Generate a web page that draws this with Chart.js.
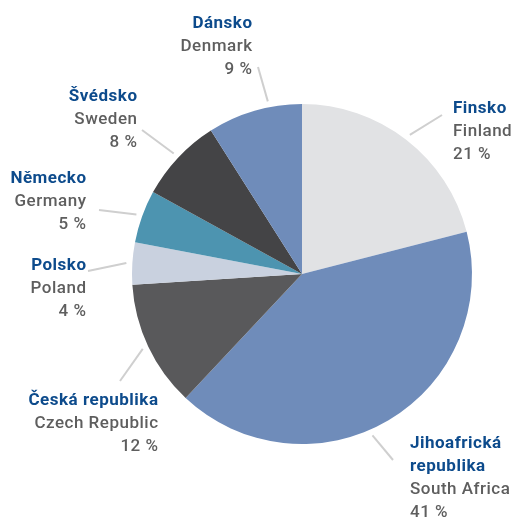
<!DOCTYPE html>
<html>
<head>
<meta charset="utf-8">
<script src="https://cdn.jsdelivr.net/npm/chart.js@4.4.1/dist/chart.umd.min.js"></script>
<style>
  html, body { margin: 0; padding: 0; background: #fff; }
  canvas { display: block; }
</style>
</head>
<body>
<canvas id="pie" width="516" height="517"></canvas>
<script>
// data
const namesCz = ['Finsko', 'Jihoafrická republika', 'Česká republika', 'Polsko', 'Německo', 'Švédsko', 'Dánsko'];
const namesEn = ['Finland', 'South Africa', 'Czech Republic', 'Poland', 'Germany', 'Sweden', 'Denmark'];
const shares = [21, 41, 12, 4, 5, 8, 9];
const sliceColors = ['#e1e2e4', '#6f8cba', '#59595b', '#c9d1df', '#4d94b0', '#444446', '#6f8cba'];

// where each label sits, relative to the pie centre
// (line starts just outside the slice, at its middle unless an angle shift is given)
const labelLayout = [
  { end: [140, -159], text: [151, -161], align: 'left' },
  { end: [91, 186],   text: [108, 174],  align: 'left', wrap: true, shift: 7 },
  { end: [-182, 107], text: [-144, 131], align: 'right' },
  { end: [-214, -3],  text: [-216, -4],  align: 'right' },
  { end: [-203, -64], text: [-216, -91], align: 'right' },
  { end: [-160, -144], text: [-165, -173], align: 'right' },
  { end: [-44, -207], text: [-50, -246], align: 'right', shift: 5 }
];

const FONT = 'Roboto, "DejaVu Sans", sans-serif';

const calloutPlugin = {
  id: 'callouts',
  afterDatasetsDraw(chart) {
    const ctx = chart.ctx;
    const meta = chart.getDatasetMeta(0);
    meta.data.forEach((arc, i) => {
      const p = arc.getProps(['x', 'y', 'startAngle', 'endAngle', 'outerRadius'], true);
      const lay = labelLayout[i];
      const mid = (p.startAngle + p.endAngle) / 2 + (lay.shift || 0) * Math.PI / 180;
      const r0 = p.outerRadius + 6;
      ctx.save();
      ctx.strokeStyle = '#cfcfcf';
      ctx.lineWidth = 2;
      ctx.beginPath();
      ctx.moveTo(p.x + Math.cos(mid) * r0, p.y + Math.sin(mid) * r0);
      ctx.lineTo(p.x + lay.end[0], p.y + lay.end[1]);
      ctx.stroke();

      let lines = [];
      const titles = lay.wrap ? namesCz[i].split(' ') : [namesCz[i]];
      titles.forEach(t => lines.push({ t: t, c: '#0d4b8c', f: 'bold 17px ' + FONT }));
      lines.push({ t: namesEn[i], c: '#5e5e5e', f: '500 17px ' + FONT });
      lines.push({ t: shares[i] + ' %', c: '#5e5e5e', f: '500 17px ' + FONT });

      ctx.textAlign = lay.align;
      ctx.textBaseline = 'alphabetic';
      ctx.letterSpacing = '0.5px';
      const xOff = lay.align === 'right' ? 0.5 : 0;
      let y = p.y + lay.text[1];
      lines.forEach(l => {
        ctx.font = l.f;
        ctx.fillStyle = l.c;
        ctx.fillText(l.t, p.x + lay.text[0] + xOff, y);
        y += 23;
      });
      ctx.restore();
    });
  }
};

new Chart(document.getElementById('pie'), {
  type: 'pie',
  data: {
    labels: namesEn,
    datasets: [{
      data: shares,
      backgroundColor: sliceColors,
      borderWidth: 0
    }]
  },
  options: {
    responsive: false,
    animation: false,
    layout: { padding: { left: 132, right: 44, top: 104, bottom: 73 } },
    plugins: {
      legend: { display: false },
      tooltip: { enabled: false }
    }
  },
  plugins: [calloutPlugin]
});
</script>
</body>
</html>
